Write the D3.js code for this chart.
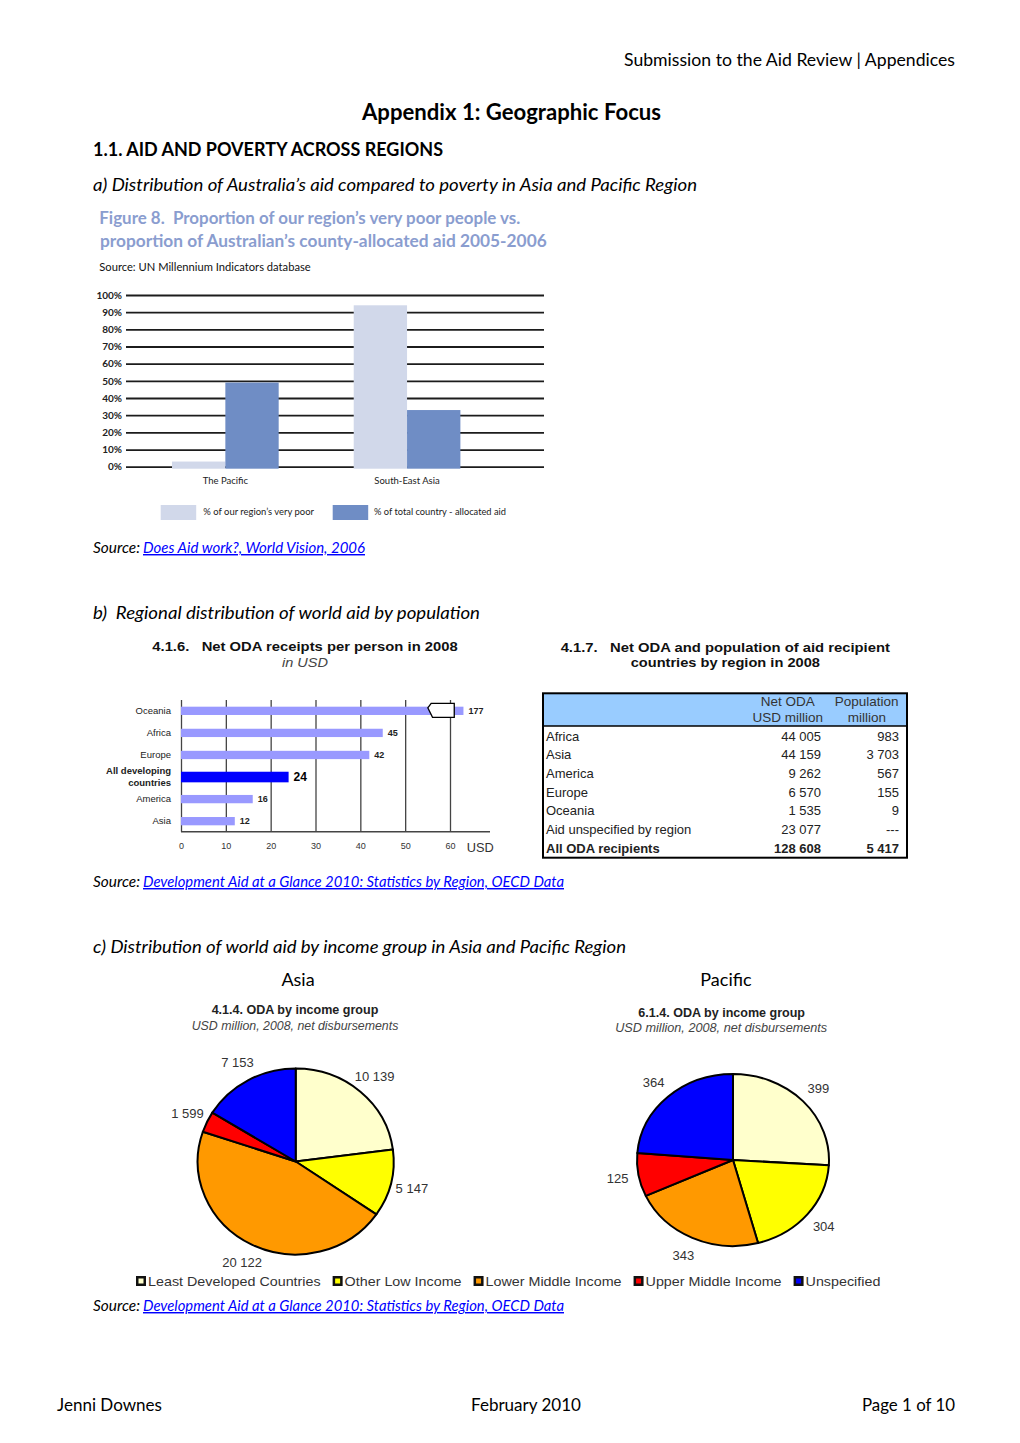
<!DOCTYPE html>
<html><head><meta charset="utf-8">
<script src="https://cdn.jsdelivr.net/npm/d3@7"></script>
<style>body{margin:0;background:#fff}svg{display:block}</style>
</head><body>
<svg id="page" width="1020" height="1443"></svg>
<script>
// ---------------- DATA ----------------
const fig8Categories = ["The Pacific", "South-East Asia"];
const fig8Series = ["% of our region\u2019s very poor", "% of total country - allocated aid"];
const fig8Poor = [3, 94];
const fig8Aid = [49, 33];
const fig8Ticks = [0, 10, 20, 30, 40, 50, 60, 70, 80, 90, 100];

const odaRegions = ["Oceania", "Africa", "Europe", "All developing countries", "America", "Asia"];
const odaPerPerson = [177, 45, 42, 24, 16, 12];
const odaTicks = [0, 10, 20, 30, 40, 50, 60];

const tableRegions = ["Africa", "Asia", "America", "Europe", "Oceania", "Aid unspecified by region", "All ODA recipients"];
const tableNetOda = [44005, 44159, 9262, 6570, 1535, 23077, 128608];
const tablePopulation = [983, 3703, 567, 155, 9, null, 5417];

const incomeGroups = ["Least Developed Countries", "Other Low Income", "Lower Middle Income", "Upper Middle Income", "Unspecified"];
const asiaOda = [10139, 5147, 20122, 1599, 7153];
const pacificOda = [399, 304, 343, 125, 364];

// ---------------- HELPERS ----------------
const svg = d3.select("#page");
const BODY = "Lato, 'Open Sans', sans-serif";
const ARIAL = "'Liberation Sans', Arial, sans-serif";
const fmt = d3.formatLocale({decimal: ".", thousands: " ", grouping: [3], currency: ["", ""]}).format(",");

function text(x, y, s, o = {}) {
  const t = svg.append("text").attr("x", x).attr("y", y)
    .attr("font-family", o.ff || BODY).attr("font-size", o.fs || 18)
    .attr("fill", o.fill || "#000").attr("text-anchor", o.anchor || "start")
    .style("white-space", "pre").text(s);
  if (o.bold) t.attr("font-weight", "bold");
  if (o.italic) t.attr("font-style", "italic");
  if (o.w) t.attr("textLength", o.w).attr("lengthAdjust", "spacingAndGlyphs");
  if (o.underline) t.attr("text-decoration", "underline");
  return t;
}

// ---------------- PAGE TEXT ----------------
text(955, 66, "Submission to the Aid Review | Appendices", {anchor: "end", w: 331, fs: 18});
text(511.5, 120, "Appendix 1: Geographic Focus", {anchor: "middle", bold: true, fs: 23, w: 299});
text(93, 156, "1.1. AID AND POVERTY ACROSS REGIONS", {bold: true, fs: 18.5, w: 350});
text(93, 190.5, "a) Distribution of Australia\u2019s aid compared to poverty in Asia and Pacific Region", {italic: true, fs: 18, w: 604});
text(93, 553, "Source:", {italic: true, fs: 14.5, w: 47});
text(143, 553, "Does Aid work?, World Vision, 2006", {italic: true, fs: 14.5, w: 222, fill: "#0000ff", underline: true});
text(93, 618.5, "b)  Regional distribution of world aid by population", {italic: true, fs: 18, w: 387});
text(93, 887, "Source:", {italic: true, fs: 14.5, w: 47});
text(143, 887, "Development Aid at a Glance 2010: Statistics by Region, OECD Data", {italic: true, fs: 14.5, w: 421, fill: "#0000ff", underline: true});
text(93, 952.5, "c) Distribution of world aid by income group in Asia and Pacific Region", {italic: true, fs: 18, w: 533});
text(298, 986, "Asia", {anchor: "middle", fs: 18});
text(726, 986, "Pacific", {anchor: "middle", fs: 18});
text(93, 1311, "Source:", {italic: true, fs: 14.5, w: 47});
text(143, 1311, "Development Aid at a Glance 2010: Statistics by Region, OECD Data", {italic: true, fs: 14.5, w: 421, fill: "#0000ff", underline: true});
text(57, 1411, "Jenni Downes", {fs: 18, w: 105});
text(526, 1411, "February 2010", {fs: 18, w: 110, anchor: "middle"});
text(955, 1411, "Page 1 of 10", {fs: 18, w: 93, anchor: "end"});

// ---------------- FIGURE 8 ----------------
text(99.3, 224, "Figure 8.  Proportion of our region\u2019s very poor people vs.", {bold: true, fs: 16.5, fill: "#8a9dcf", w: 421});
text(100, 246.7, "proportion of Australian\u2019s county-allocated aid 2005-2006", {bold: true, fs: 16.5, fill: "#8a9dcf", w: 446.7});
text(99.3, 271, "Source: UN Millennium Indicators database", {fs: 11, fill: "#111", w: 211.4});

const f8 = svg.append("g");
const f8y = d3.scaleLinear().domain([0, 100]).range([466.7, 295]);
const f8x0 = d3.scaleBand().domain(fig8Categories).range([134.5, 497.9]).paddingInner(0.413).paddingOuter(0.2065);
const f8x1 = d3.scaleBand().domain([0, 1]).range([0, f8x0.bandwidth()]);
const f8colors = ["#d1d8ea", "#6f8dc5"];
const f8Axis = f8.append("g").attr("transform", "translate(126,0)")
  .call(d3.axisLeft(f8y).tickValues(fig8Ticks).tickFormat(d => d + "%").tickSize(-418).tickPadding(4));
f8Axis.select(".domain").remove();
f8Axis.selectAll(".tick line").attr("stroke", "#1c1c1c").attr("stroke-width", 1.8);
f8Axis.selectAll(".tick text").attr("font-family", BODY).attr("font-size", 10).attr("font-weight", "bold").attr("fill", "#222");

const f8data = fig8Categories.map((c, i) => ({c, vals: [fig8Poor[i], fig8Aid[i]]}));
f8.selectAll("g.grp").data(f8data).join("g").attr("class", "grp")
  .attr("transform", d => `translate(${f8x0(d.c)},0)`)
  .selectAll("rect").data(d => d.vals).join("rect")
  .attr("x", (d, i) => f8x1(i)).attr("width", f8x1.bandwidth())
  .attr("y", d => f8y(d)).attr("height", d => f8y(0) - f8y(d) + 2)
  .attr("fill", (d, i) => f8colors[i]);
fig8Categories.forEach(c => text(f8x0(c) + f8x0.bandwidth() / 2, 484, c, {anchor: "middle", fs: 9.5, fill: "#222"}));
// legend
[[160.7, 203.3, 110.7], [332.7, 374, 132]].forEach((p, i) => {
  svg.append("rect").attr("x", p[0]).attr("y", 505).attr("width", 35.5).attr("height", 15).attr("fill", f8colors[i]);
  text(p[1], 515, fig8Series[i], {fs: 9, fill: "#222", w: p[2]});
});

// ---------------- 4.1.6 BAR CHART ----------------
text(305, 650.7, "4.1.6.   Net ODA receipts per person in 2008", {ff: ARIAL, bold: true, fs: 13.5, anchor: "middle", w: 305.4, fill: "#111"});
text(305, 667, "in USD", {ff: ARIAL, italic: true, fs: 13, anchor: "middle", fill: "#444", w: 46});

const bx = d3.scaleLinear().domain([0, 60]).range([181, 450]);
const by = d3.scaleBand().domain(odaRegions).range([699.8, 832.2]);
const capValue = 63; // axis break display cap
const bAxis = svg.append("g").attr("transform", "translate(0,831.7)")
  .call(d3.axisBottom(bx).tickValues(odaTicks).tickSize(-131.7).tickPadding(11));
bAxis.select(".domain").remove();
bAxis.selectAll(".tick line").attr("stroke", "#444").attr("stroke-width", 1.3);
bAxis.selectAll(".tick text").attr("font-family", ARIAL).attr("font-size", 9).attr("fill", "#333");
svg.append("line").attr("x1", bx(0)).attr("x2", 490).attr("y1", 831.7).attr("y2", 831.7).attr("stroke", "#444").attr("stroke-width", 1.5);
text(466.7, 852, "USD", {ff: ARIAL, fs: 13, fill: "#333", w: 27});

const odaData = odaRegions.map((r, i) => ({r, v: odaPerPerson[i], hl: r === "All developing countries"}));
svg.selectAll("rect.oda").data(odaData).join("rect").attr("class", "oda")
  .attr("x", bx(0))
  .attr("width", d => bx(Math.min(d.v, capValue)) - bx(0))
  .attr("y", d => by(d.r) + by.bandwidth() / 2 - (d.hl ? 5.3 : 4.15))
  .attr("height", d => d.hl ? 10.6 : 8.3)
  .attr("fill", d => d.hl ? "#0000ff" : "#9999ff");
// axis break symbol on the capped bar
odaData.filter(d => d.v > 60).forEach(d => {
  const cy = by(d.r) + by.bandwidth() / 2;
  const pts = [[55.8, -7.5], [60.95, -7.5], [60.95, 6.5], [56.1, 6.5], [55.05, -3]];
  svg.append("path").attr("d", d3.line()(pts.map(p => [bx(p[0]), cy + p[1]])) + "Z")
    .attr("fill", "#fff").attr("stroke", "#000").attr("stroke-width", 1.3);
});
odaData.forEach(d => {
  const cy = by(d.r) + by.bandwidth() / 2;
  text(bx(Math.min(d.v, capValue)) + 5, cy + (d.hl ? 4.3 : 3.2), String(d.v),
    {ff: ARIAL, bold: true, fs: d.hl ? 12 : 9, fill: d.hl ? "#000" : "#222"});
  if (d.hl) {
    text(171, cy - 2.8, "All developing", {ff: ARIAL, bold: true, fs: 9.5, anchor: "end", fill: "#222"});
    text(171, cy + 8.6, "countries", {ff: ARIAL, bold: true, fs: 9.5, anchor: "end", fill: "#222"});
  } else {
    text(171, cy + 3.3, d.r, {ff: ARIAL, fs: 9.5, anchor: "end", fill: "#222"});
  }
});

// ---------------- 4.1.7 TABLE ----------------
text(725.3, 651.7, "4.1.7.   Net ODA and population of aid recipient", {ff: ARIAL, bold: true, fs: 13.5, anchor: "middle", w: 329.3, fill: "#111"});
text(725.3, 666.7, "countries by region in 2008", {ff: ARIAL, bold: true, fs: 13.5, anchor: "middle", w: 189.3, fill: "#111"});
svg.append("rect").attr("x", 543).attr("y", 693.3).attr("width", 364).attr("height", 32.7).attr("fill", "#99ccff");
svg.append("line").attr("x1", 543).attr("x2", 907).attr("y1", 726).attr("y2", 726).attr("stroke", "#000").attr("stroke-width", 1.5);
text(787.7, 706, "Net ODA", {ff: ARIAL, fs: 13.5, anchor: "middle", fill: "#333"});
text(787.7, 722, "USD million", {ff: ARIAL, fs: 13.5, anchor: "middle", fill: "#333"});
text(866.7, 706, "Population", {ff: ARIAL, fs: 13.5, anchor: "middle", fill: "#333"});
text(867, 722, "million", {ff: ARIAL, fs: 13.5, anchor: "middle", fill: "#333"});
const ty = d3.scaleBand().domain(tableRegions).range([726.8, 857.7]);
tableRegions.forEach((r, i) => {
  const cy = ty(r) + ty.bandwidth() / 2 + 4.5;
  const bold = i === tableRegions.length - 1;
  text(546, cy, r, {ff: ARIAL, fs: 13, fill: "#222", bold});
  text(821, cy, fmt(tableNetOda[i]), {ff: ARIAL, fs: 13, fill: "#222", anchor: "end", bold});
  text(899, cy, tablePopulation[i] == null ? "---" : fmt(tablePopulation[i]), {ff: ARIAL, fs: 13, fill: "#222", anchor: "end", bold});
});
svg.append("rect").attr("x", 543).attr("y", 693.3).attr("width", 364).attr("height", 164.4)
  .attr("fill", "none").attr("stroke", "#000").attr("stroke-width", 2);

// ---------------- PIES ----------------
const pieColors = ["#ffffcc", "#ffff00", "#ff9900", "#ff0000", "#0000ff"];
function drawPie(vals, cx, cy, rx, ry) {
  const arcs = d3.pie().sort(null).value(d => d)(vals);
  const arc = d3.arc().innerRadius(0).outerRadius(rx);
  const g = svg.append("g").attr("transform", `translate(${cx},${cy}) scale(1,${ry / rx})`);
  g.selectAll("path").data(arcs).join("path").attr("d", arc)
    .attr("fill", (d, i) => pieColors[i]).attr("stroke", "#000").attr("stroke-width", 2)
    .attr("stroke-linejoin", "round").attr("vector-effect", "non-scaling-stroke");
  arcs.forEach(d => {
    const a = (d.startAngle + d.endAngle) / 2;
    const k = 1.22;
    text(cx + k * rx * Math.sin(a), cy - k * ry * Math.cos(a) + 4.5, fmt(d.value),
      {ff: ARIAL, fs: 13, anchor: "middle", fill: "#333"});
  });
}
text(295, 1014, "4.1.4. ODA by income group", {ff: ARIAL, bold: true, fs: 12.5, anchor: "middle", w: 166.7, fill: "#222"});
text(295, 1030, "USD million, 2008, net disbursements", {ff: ARIAL, italic: true, fs: 12.5, anchor: "middle", w: 206.7, fill: "#444"});
text(721.7, 1016.7, "6.1.4. ODA by income group", {ff: ARIAL, bold: true, fs: 12.5, anchor: "middle", w: 166.7, fill: "#222"});
text(721.2, 1032, "USD million, 2008, net disbursements", {ff: ARIAL, italic: true, fs: 12.5, anchor: "middle", w: 212, fill: "#444"});
drawPie(asiaOda, 295.7, 1161.5, 98, 93);
drawPie(pacificOda, 733, 1160, 96, 86);

// pie legend
let lx = 136;
incomeGroups.forEach((g, i) => {
  svg.append("rect").attr("x", lx + 1.25).attr("y", 1277.25).attr("width", 7.5).attr("height", 7.5)
    .attr("fill", pieColors[i]).attr("stroke", "#111").attr("stroke-width", 2.5);
  const t = text(lx + 12, 1286, g, {ff: ARIAL, fs: 13.5, fill: "#333"});
  const w = t.node().getComputedTextLength() * 1.06;
  t.attr("textLength", w).attr("lengthAdjust", "spacingAndGlyphs");
  lx += 12 + w + 12;
});
</script>
</body></html>
